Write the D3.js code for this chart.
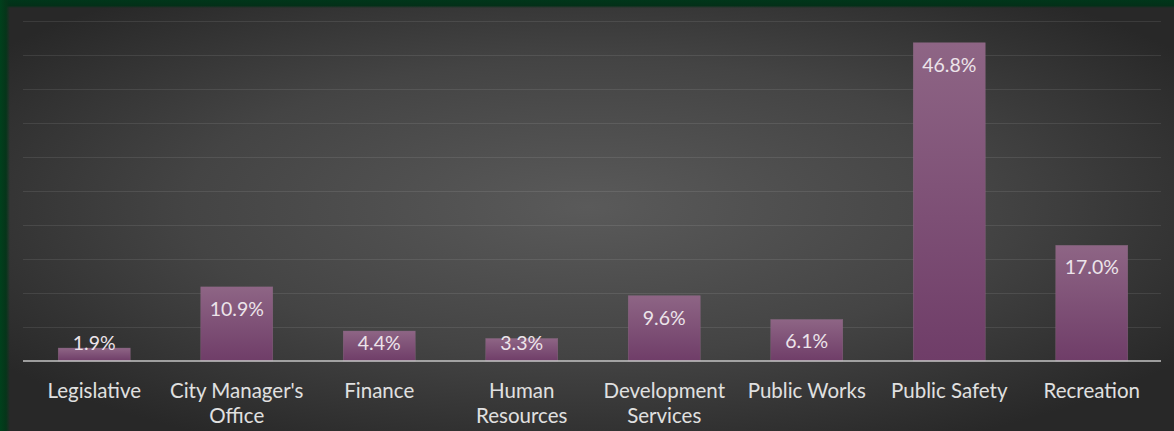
<!DOCTYPE html>
<html>
<head>
<meta charset="utf-8">
<script src="https://cdn.jsdelivr.net/npm/d3@7"></script>
<style>
  html, body { margin: 0; padding: 0; background: #2b2b2b; }
  svg { display: block; }
</style>
</head>
<body>
<svg id="chart" width="1174" height="431"></svg>
<script>
const categories = ["Legislative", "City Manager's Office", "Finance", "Human Resources", "Development Services", "Public Works", "Public Safety", "Recreation"];
const categoryLines = [["Legislative"], ["City Manager's", "Office"], ["Finance"], ["Human", "Resources"], ["Development", "Services"], ["Public Works"], ["Public Safety"], ["Recreation"]];
const values = [1.9, 10.9, 4.4, 3.3, 9.6, 6.1, 46.8, 17.0];
const valueLabels = ["1.9%", "10.9%", "4.4%", "3.3%", "9.6%", "6.1%", "46.8%", "17.0%"];
const yTicks = [0, 5, 10, 15, 20, 25, 30, 35, 40, 45, 50];

const W = 1174, H = 431;
const svg = d3.select("#chart");
const defs = svg.append("defs");

// background radial gradient
const bg = defs.append("radialGradient").attr("id", "bg")
  .attr("cx", "50%").attr("cy", "48%").attr("r", "62%");
bg.append("stop").attr("offset", "0%").attr("stop-color", "#5a5a5a");
bg.append("stop").attr("offset", "55%").attr("stop-color", "#444444");
bg.append("stop").attr("offset", "100%").attr("stop-color", "#282828");

const greenTop = defs.append("linearGradient").attr("id", "gtop").attr("x1", 0).attr("y1", 0).attr("x2", 0).attr("y2", 1);
greenTop.append("stop").attr("offset", "0%").attr("stop-color", "#00361a");
greenTop.append("stop").attr("offset", "70%").attr("stop-color", "#033018");
greenTop.append("stop").attr("offset", "100%").attr("stop-color", "#033018").attr("stop-opacity", 0);
const greenLeft = defs.append("linearGradient").attr("id", "gleft").attr("x1", 0).attr("y1", 0).attr("x2", 1).attr("y2", 0);
greenLeft.append("stop").attr("offset", "0%").attr("stop-color", "#00401c");
greenLeft.append("stop").attr("offset", "60%").attr("stop-color", "#053519");
greenLeft.append("stop").attr("offset", "100%").attr("stop-color", "#053519").attr("stop-opacity", 0);

const barGrad = defs.append("linearGradient").attr("id", "bar").attr("x1", 0).attr("y1", 0).attr("x2", 0).attr("y2", 1);
barGrad.append("stop").attr("offset", "0%").attr("stop-color", "#8e6585");
barGrad.append("stop").attr("offset", "100%").attr("stop-color", "#6f3d68");

svg.append("rect").attr("width", W).attr("height", H).attr("fill", "url(#bg)");
svg.append("rect").attr("x", 0).attr("y", 0).attr("width", W).attr("height", 8).attr("fill", "url(#gtop)");
svg.append("rect").attr("x", 0).attr("y", 0).attr("width", 10).attr("height", H).attr("fill", "url(#gleft)");

const x = d3.scaleBand().domain(categories).range([23, 1163]).paddingInner(0.495).paddingOuter(0.2475);
const y = d3.scaleLinear().domain([0, 50]).range([361, 21]);

// gridlines
svg.append("g").selectAll("line").data(yTicks.slice(1)).join("line")
  .attr("x1", 23).attr("x2", 1161)
  .attr("y1", d => Math.round(y(d)) + 0.5).attr("y2", d => Math.round(y(d)) + 0.5)
  .attr("stroke", "#ffffff").attr("stroke-opacity", 0.09).attr("stroke-width", 1.2);

// bars
svg.append("g").selectAll("rect").data(values).join("rect")
  .attr("x", (d, i) => x(categories[i]))
  .attr("y", d => y(d))
  .attr("width", x.bandwidth())
  .attr("height", d => y(0) - y(d))
  .attr("fill", "url(#bar)")
  .attr("stroke", "#93708c").attr("stroke-width", 0.6).attr("stroke-opacity", 0.6);

// baseline
svg.append("line").attr("x1", 23).attr("x2", 1161).attr("y1", y(0)).attr("y2", y(0))
  .attr("stroke", "#c4c4c4").attr("stroke-width", 1.5);

// value labels
svg.append("g").selectAll("text").data(values).join("text")
  .attr("x", (d, i) => x(categories[i]) + x.bandwidth() / 2)
  .attr("y", d => Math.min(y(d) + 22, 343))
  .attr("dy", "0.35em")
  .attr("text-anchor", "middle")
  .attr("font-family", "Lato, 'Open Sans', sans-serif")
  .attr("font-size", 19.5)
  .attr("fill", "#ece4ea")
  .text((d, i) => valueLabels[i]);

// category labels
const cat = svg.append("g").selectAll("text").data(categories).join("text")
  .attr("text-anchor", "middle")
  .attr("font-family", "Lato, 'Open Sans', sans-serif")
  .attr("font-size", 20.5)
  .attr("fill", "#e0e0e0")
  .attr("transform", d => `translate(${x(d) + x.bandwidth() / 2},0)`);
cat.selectAll("tspan").data((d, i) => categoryLines[i]).join("tspan")
  .attr("x", 0)
  .attr("y", (t, j) => 398 + j * 25)
  .text(t => t);
</script>
</body>
</html>
